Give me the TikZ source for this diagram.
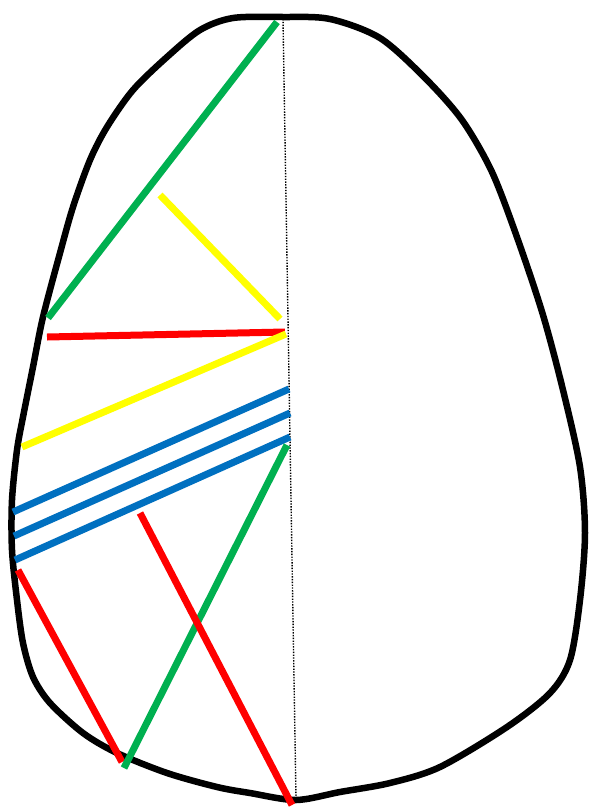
\documentclass[tikz,border=0pt]{standalone}
\definecolor{lgreen}{HTML}{00B050}
\definecolor{lyellow}{HTML}{FFFF00}
\definecolor{lred}{HTML}{FF0000}
\definecolor{lblue}{HTML}{0070C0}
\tikzset{
  outline/.style={line width=6.5pt, line join=round},
  seg/.style={line width=7pt, line cap=butt},
  midline/.style={line width=1.4pt, dash pattern=on 1.4pt off 1.4pt}
}
\begin{document}
\begin{tikzpicture}[x=1pt,y=-1pt]
\useasboundingbox (0,0) rectangle (589,807);
\fill[white] (0,0) rectangle (589,807);
% outline
\draw[outline] plot[smooth cycle, tension=0.5] coordinates {
(283,17)(330,19)(380,38)(425,78)(462,120)(492,172)(518,240)(543,315)(563,390)(580,467)(585,533)(580,600)(570,660)(550,693)(507,727)(440,767)(390,783)(340,792)(296,800)(250,793)(217,787)(167,773)(117,753)(83,733)(50,703)(33,677)(23,643)(17,600)(12,550)(12,500)(17,450)(23,417)(33,367)(43,317)(60,253)(73,207)(90,160)(107,127)(133,90)(167,57)(200,30)(233,18)};
% midline
\coordinate (top) at (283,19);
\coordinate (bot) at (296,798);
\draw[midline] (top) -- (bot);
% endpoints
\coordinate (g1a) at (277,22);  \coordinate (g1b) at (48,318);
\coordinate (y1a) at (160,195); \coordinate (y1b) at (280,319);
\coordinate (r1a) at (47,337);  \coordinate (r1b) at (285,332);
\coordinate (y2a) at (22,447);  \coordinate (y2b) at (286,334);
\coordinate (b1a) at (13,512);  \coordinate (b1b) at (289,389);
\coordinate (b2a) at (14,536);  \coordinate (b2b) at (290,413);
\coordinate (b3a) at (15,560);  \coordinate (b3b) at (290,437);
\coordinate (g2a) at (287,445); \coordinate (g2b) at (124,768);
\coordinate (r2a) at (18,570);  \coordinate (r2b) at (122,762);
\coordinate (r3a) at (140,513); \coordinate (r3b) at (292,805);
\draw[seg, lgreen] (g1a) -- (g1b);
\draw[seg, lyellow] (y1a) -- (y1b);
\draw[seg, lred] (r1a) -- (r1b);
\draw[seg, lyellow] (y2a) -- (y2b);
\draw[seg, lblue] (b1a) -- (b1b);
\draw[seg, lblue] (b2a) -- (b2b);
\draw[seg, lblue] (b3a) -- (b3b);
\draw[seg, lred] (r2a) -- (r2b);
\draw[seg, lgreen] (g2a) -- (g2b);
\draw[seg, lred] (r3a) -- (r3b);
\end{tikzpicture}
\end{document}
